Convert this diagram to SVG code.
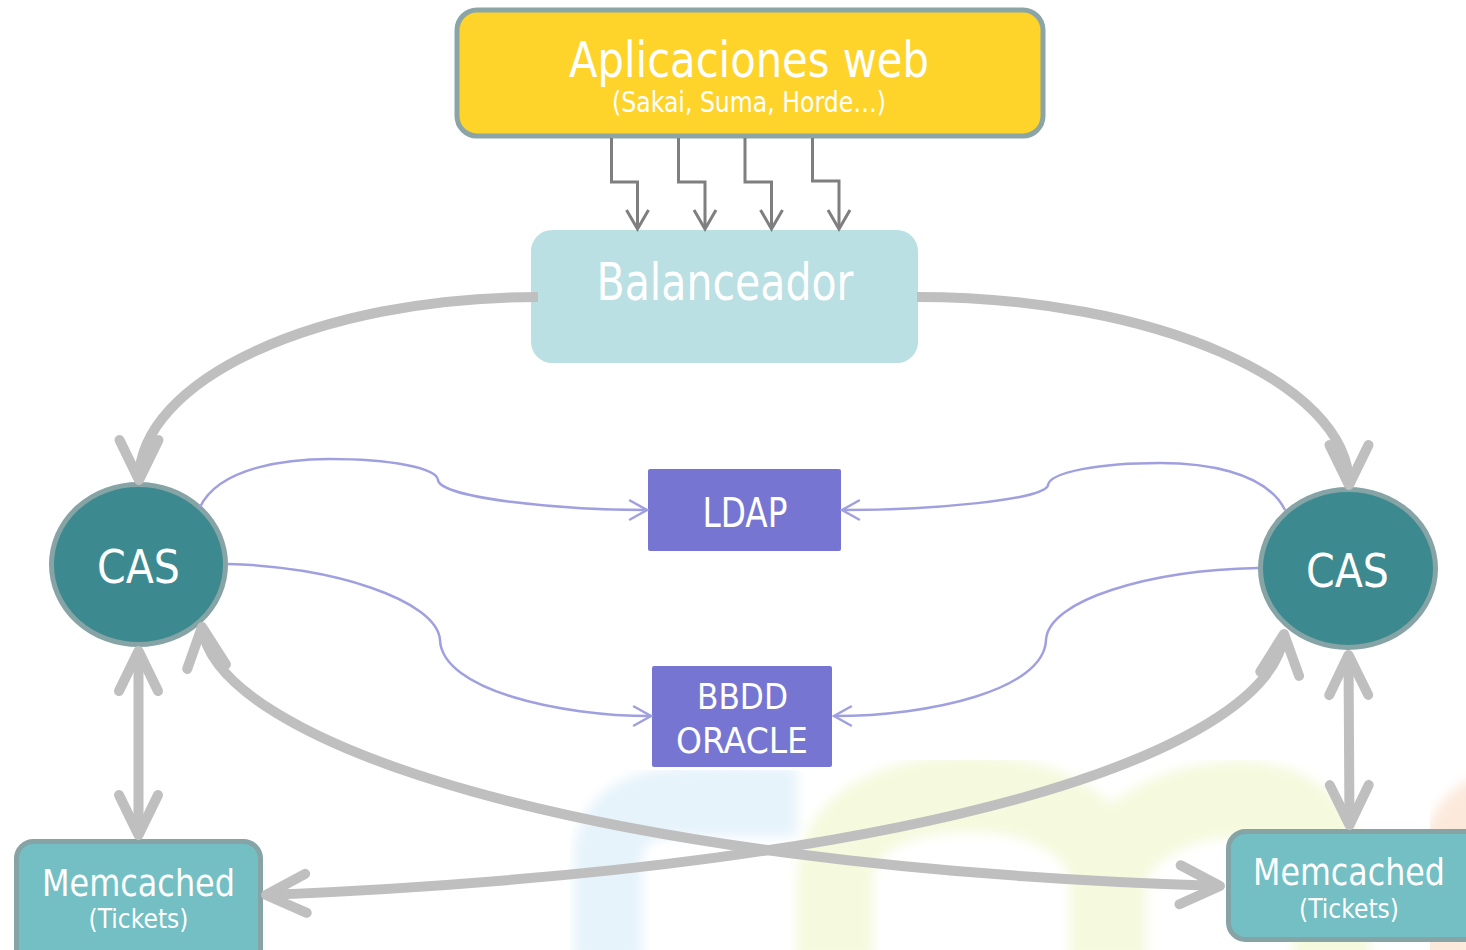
<svg xmlns="http://www.w3.org/2000/svg" width="1466" height="950" viewBox="0 0 1466 950">
<style>
.t{font-family:"DejaVu Sans","Liberation Sans",Arial,sans-serif;fill:#ffffff;text-anchor:middle}
.thick{fill:none;stroke:#BFBFBF;stroke-width:10;stroke-linecap:butt;marker-end:url(#ga)}
.thin{fill:none;stroke:#7F7F7F;stroke-width:3;marker-end:url(#sa)}
.pur{fill:none;stroke:#A0A0E0;stroke-width:2.5;marker-end:url(#pa)}
.wm{fill:none;filter:url(#blur)}
</style>
<defs>
<filter id="blur" x="-20%" y="-20%" width="140%" height="140%"><feGaussianBlur stdDeviation="6"/></filter>
<marker id="ga" viewBox="-50 -30 60 60" refX="0" refY="0" markerWidth="60" markerHeight="60" markerUnits="userSpaceOnUse" orient="auto-start-reverse"><path d="M-40,-19.5 L0,0 L-40,19.5" fill="none" stroke="#BFBFBF" stroke-width="10" stroke-linecap="round" stroke-linejoin="round"/></marker>
<marker id="sa" viewBox="-25 -15 30 30" refX="0" refY="0" markerWidth="30" markerHeight="30" markerUnits="userSpaceOnUse" orient="auto"><path d="M-19,-11 L0,0 L-19,11" fill="none" stroke="#7F7F7F" stroke-width="3" stroke-linejoin="miter"/></marker>
<marker id="pa" viewBox="-25 -15 30 30" refX="0" refY="0" markerWidth="30" markerHeight="30" markerUnits="userSpaceOnUse" orient="auto"><path d="M-17,-9.5 L0,0 L-17,9.5" fill="none" stroke="#A0A0E0" stroke-width="2.5" stroke-linecap="round"/></marker>
</defs>
<rect width="1466" height="950" fill="#ffffff"/>
<g id="watermark">
<path class="wm" d="M608,960 L608,860 C608,818 640,802 690,802 L797,802" stroke="#E6F3FB" stroke-width="68"/>
<path class="wm" d="M835,960 L835,880 C835,820 900,794 970,794 C1050,794 1105,830 1108,880 L1108,960 M1108,880 C1115,830 1180,799 1240,799 C1300,799 1330,840 1332,890 L1332,960" stroke="#F5F9DD" stroke-width="76"/>
<path class="wm" d="M1442,960 C1442,840 1462,812 1500,802" stroke="#FCE9DB" stroke-width="64"/>
</g>
<g id="apps">
<rect x="457" y="10" width="586" height="126" rx="20" fill="#FFD42A" stroke="#8BA4A6" stroke-width="5"/>
<text class="t" x="749" y="77" font-size="49" textLength="360" lengthAdjust="spacingAndGlyphs">Aplicaciones web</text>
<text class="t" x="749" y="112" font-size="28" textLength="274" lengthAdjust="spacingAndGlyphs">(Sakai, Suma, Horde…)</text>
</g>
<g id="balanceador">
<rect x="531" y="230" width="387" height="133" rx="21" fill="#BAE0E3"/>
<text class="t" x="725" y="300" font-size="51" textLength="257" lengthAdjust="spacingAndGlyphs">Balanceador</text>
</g>
<g id="cas-left">
<ellipse cx="138.5" cy="564.5" rx="87" ry="80" fill="#3C8A8F" stroke="#86A3A5" stroke-width="5"/>
<text class="t" x="138.5" y="583" font-size="47" textLength="83" lengthAdjust="spacingAndGlyphs">CAS</text>
</g>
<g id="cas-right">
<ellipse cx="1348" cy="568.5" rx="87.5" ry="79" fill="#3C8A8F" stroke="#86A3A5" stroke-width="5"/>
<text class="t" x="1347.5" y="587" font-size="47" textLength="83" lengthAdjust="spacingAndGlyphs">CAS</text>
</g>
<g id="ldap">
<rect x="648" y="469" width="193" height="82" rx="2" fill="#7676D2"/>
<text class="t" x="745" y="527" font-size="40" textLength="85" lengthAdjust="spacingAndGlyphs">LDAP</text>
</g>
<g id="bbdd">
<rect x="652" y="666" width="180" height="101" rx="2" fill="#7676D2"/>
<text class="t" x="742.5" y="709" font-size="36" textLength="91" lengthAdjust="spacingAndGlyphs">BBDD</text>
<text class="t" x="742" y="753" font-size="36" textLength="132" lengthAdjust="spacingAndGlyphs">ORACLE</text>
</g>
<g id="memcached-left">
<rect x="16.5" y="841.5" width="244" height="130" rx="17" fill="#73BFC4" stroke="#86A3A5" stroke-width="5"/>
<text class="t" x="138.5" y="896" font-size="38" textLength="193" lengthAdjust="spacingAndGlyphs">Memcached</text>
<text class="t" x="138.5" y="928" font-size="26" textLength="100" lengthAdjust="spacingAndGlyphs">(Tickets)</text>
</g>
<g id="memcached-right">
<rect x="1228.5" y="831.5" width="260" height="108" rx="17" fill="#73BFC4" stroke="#86A3A5" stroke-width="5"/>
<text class="t" x="1349" y="885" font-size="38" textLength="192" lengthAdjust="spacingAndGlyphs">Memcached</text>
<text class="t" x="1349" y="918" font-size="26" textLength="100" lengthAdjust="spacingAndGlyphs">(Tickets)</text>
</g>
<g id="connectors">
<path class="thin" d="M611.5,138 L611.5,182 L637.5,182 L637.5,229"/>
<path class="thin" d="M678.5,138 L678.5,182 L705,182 L705,229"/>
<path class="thin" d="M745,138 L745,182 L771.5,182 L771.5,229"/>
<path class="thin" d="M812.5,138 L812.5,181 L839,181 L839,229"/>
<path class="thick" d="M538,297 C317,297 139,380 139,480" stroke-linecap="round"/>
<path class="thick" d="M917,297 C1155,297 1349,383 1349,485"/>
<path class="thick" d="M138.5,651 L138.5,835" marker-start="url(#ga)"/>
<path class="thick" d="M1348.5,655 L1349.5,825" marker-start="url(#ga)"/>
<path class="thick" d="M202,627 C215,740 570,866 1220,886" marker-start="url(#ga)"/>
<path class="thick" d="M1284,634 C1272,745 960,866 266,895" marker-start="url(#ga)"/>
<path class="pur" d="M200,507 C220,466 290,459 330,459 C390,459 437,468 438,480 C440,498 560,510 647,510"/>
<path class="pur" d="M1285,510 C1265,470 1200,463 1160,463 C1100,463 1050,472 1048,485 C1046,500 930,510 842,510"/>
<path class="pur" d="M228,564 C330,566 437,600 440,640 C442,690 560,716 651,716"/>
<path class="pur" d="M1258,568 C1150,570 1048,600 1046,640 C1044,690 930,716 834,716"/>
</g>
</svg>
